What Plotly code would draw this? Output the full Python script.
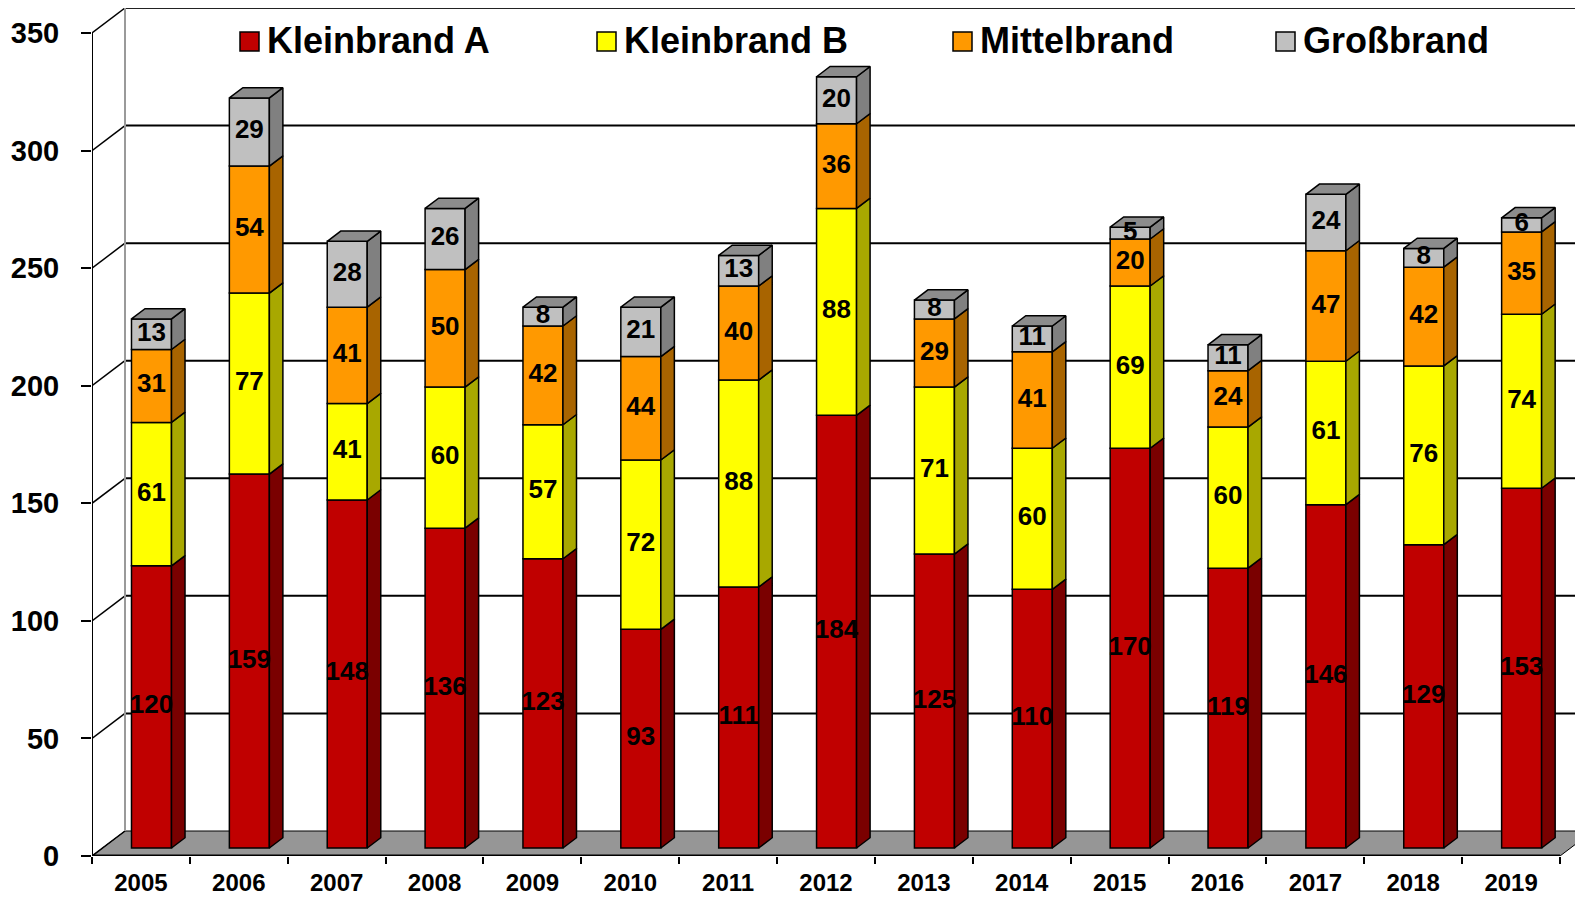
import plotly.graph_objects as go

years = ["2005", "2006", "2007", "2008", "2009", "2010", "2011", "2012",
         "2013", "2014", "2015", "2016", "2017", "2018", "2019"]
kleinbrand_a = [120, 159, 148, 136, 123, 93, 111, 184, 125, 110, 170, 119, 146, 129, 153]
kleinbrand_b = [61, 77, 41, 60, 57, 72, 88, 88, 71, 60, 69, 60, 61, 76, 74]
mittelbrand = [31, 54, 41, 50, 42, 44, 40, 36, 29, 41, 20, 24, 47, 42, 35]
grossbrand = [13, 29, 28, 26, 8, 21, 13, 20, 8, 11, 5, 11, 24, 8, 6]
series_names = ["Kleinbrand A", "Kleinbrand B", "Mittelbrand", "Großbrand"]
y_ticks = [0, 50, 100, 150, 200, 250, 300, 350]

series = [kleinbrand_a, kleinbrand_b, mittelbrand, grossbrand]
front_col = ["#C00000", "#FFFF00", "#FF9900", "#C0C0C0"]
side_col = ["#7A0000", "#A8A800", "#A86400", "#808080"]
top_col = "#8C8C8C"
FONT = "Liberation Sans, Arial"

# page offset (browser body margin)
OFF = 8
W, H = 1583 - OFF, 899 - OFF
ML, MR, MT = 92 - OFF, 0, 0
MB = H - (856 - OFF)
PXX = (1560 - 92) / 15.0       # px per category
PXY = (856 - 33) / 350.0       # px per value unit
DX = 33 / PXX                  # full depth in x units
DY = 25 / PXY                  # full depth in y units
F = 0.32                       # bar front depth fraction
B = 0.41                       # bar depth fraction
BW = 40 / PXX                  # bar width
xmin = -0.5
xmax = xmin + (W - ML - MR) / PXX
ymax = (H - MT - MB) / PXY

n = len(years)
xs = list(range(n))
fx = F * DX
fy = F * DY
bdx = B * DX
bdy = B * DY

fig = go.Figure()

shapes = []
# floor
shapes.append(dict(type="path", layer="below",
                   path=f"M {xmin},0 L {n - 0.5},0 L {n - 0.5 + DX},{DY} L {xmin + DX},{DY} Z",
                   fillcolor="#969696", line=dict(color="black", width=1)))
# back wall gridlines
for t in y_ticks[1:]:
    shapes.append(dict(type="line", layer="below", x0=xmin + DX, x1=xmax + 1, y0=t + DY, y1=t + DY,
                       line=dict(color="#222222" if t == y_ticks[-1] else "black", width=2)))
# side wall oblique lines
for t in y_ticks:
    shapes.append(dict(type="line", layer="below", x0=xmin, x1=xmin + DX, y0=t, y1=t + DY,
                       line=dict(color="black", width=1.5)))
# back wall left edge
shapes.append(dict(type="line", layer="below", x0=xmin + DX, x1=xmin + DX, y0=DY, y1=y_ticks[-1] + DY,
                   line=dict(color="#9a9a9a", width=2)))
# front y axis line
shapes.append(dict(type="line", layer="below", x0=xmin, x1=xmin, y0=0, y1=y_ticks[-1],
                   line=dict(color="black", width=2)))
# front x axis line
shapes.append(dict(type="line", layer="above", x0=xmin, x1=n - 0.5, y0=0, y1=0,
                   line=dict(color="black", width=3)))

# bars: front faces
bases = [[0.0] * n]
for s in series[:-1]:
    bases.append([b + v for b, v in zip(bases[-1], s)])

for k, (name, vals) in enumerate(zip(series_names, series)):
    fig.add_trace(go.Bar(
        x=[x + fx for x in xs], y=vals, base=[b + fy for b in bases[k]],
        width=BW, marker=dict(color=front_col[k], line=dict(color="black", width=1.5)),
        name=name, showlegend=False, textposition="none", hoverinfo="skip"))

# side faces
for k, vals in enumerate(series):
    px, py = [], []
    for i in xs:
        xr = i + fx + BW / 2
        y0 = bases[k][i] + fy
        y1 = y0 + vals[i]
        px += [xr, xr + bdx, xr + bdx, xr, xr, None]
        py += [y0, y0 + bdy, y1 + bdy, y1, y0, None]
    fig.add_trace(go.Scatter(x=px, y=py, mode="lines", fill="toself",
                             fillcolor=side_col[k], line=dict(color="black", width=1.5),
                             showlegend=False, hoverinfo="skip"))

# top faces
px, py = [], []
for i in xs:
    xl = i + fx - BW / 2
    xr = i + fx + BW / 2
    yt = bases[-1][i] + series[-1][i] + fy
    px += [xl, xl + bdx, xr + bdx, xr, xl, None]
    py += [yt, yt + bdy, yt + bdy, yt, yt, None]
fig.add_trace(go.Scatter(x=px, y=py, mode="lines", fill="toself", fillcolor=top_col,
                         line=dict(color="black", width=1.5), showlegend=False, hoverinfo="skip"))

# data labels
for k, vals in enumerate(series):
    fig.add_trace(go.Scatter(
        x=[x + fx for x in xs], y=[bases[k][i] + fy + vals[i] / 2 for i in xs],
        mode="text", text=[str(v) for v in vals],
        textfont=dict(family=FONT, size=26, color="black", weight="bold"),
        showlegend=False, hoverinfo="skip", cliponaxis=False))

# manual legend
leg_sq_x = [240, 597, 953, 1276]
annotations = []
pw, ph = W - ML - MR, H - MT - MB
for k, name in enumerate(series_names):
    x0 = leg_sq_x[k] - OFF
    shapes.append(dict(type="rect", xref="paper", yref="paper",
                       x0=(x0 - ML) / pw, x1=(x0 + 19 - ML) / pw,
                       y0=1 - (51 - OFF - MT) / ph, y1=1 - (32 - OFF - MT) / ph,
                       fillcolor=front_col[k], line=dict(color="black", width=1.5), layer="above"))
    annotations.append(dict(xref="paper", yref="paper",
                            x=(x0 + 25 - ML) / pw, y=1 - (41 - OFF - MT) / ph,
                            xanchor="left", yanchor="middle", showarrow=False,
                            text=f"<b>{name}</b>",
                            font=dict(family=FONT, size=36, color="black")))

fig.update_layout(
    width=W, height=H, margin=dict(l=ML, r=MR, t=MT, b=MB, autoexpand=False),
    plot_bgcolor="white", paper_bgcolor="white",
    barmode="overlay", showlegend=False,
    shapes=shapes, annotations=annotations,
    xaxis=dict(range=[xmin, xmax], tickvals=xs, ticktext=years, showgrid=False, zeroline=False,
               showline=False, ticks="", ticklabelstandoff=10, automargin=False,
               tickfont=dict(family=FONT, size=24, color="black", weight="bold"),
               minor=dict(tickvals=[i - 0.5 for i in range(n + 1)], ticks="outside", ticklen=7,
                          tickcolor="black", tickwidth=1.5, showgrid=False)),
    yaxis=dict(range=[0, ymax], tickvals=y_ticks, showgrid=False, zeroline=False, showline=False,
               ticks="outside", ticklen=10, tickcolor="black", tickwidth=1.5, ticklabelstandoff=16,
               automargin=False,
               tickfont=dict(family=FONT, size=29, color="black", weight="bold")),
)

fig.write_html("out.html")
